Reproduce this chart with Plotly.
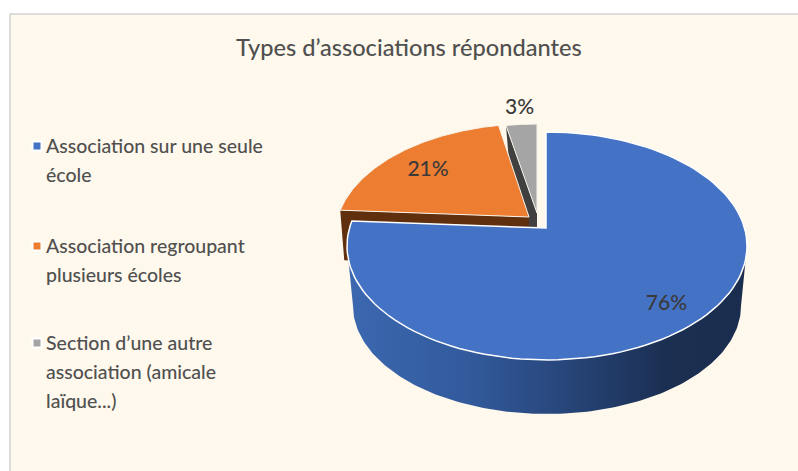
import numpy as np
import plotly.graph_objects as go

title = "Types d’associations répondantes"
categories = ["Association sur une seule<br>école",
              "Association regroupant<br>plusieurs écoles",
              "Section d’une autre<br>association (amicale<br>laïque...)"]
values = [76, 21, 3]
labels = ["76%", "21%", "3%"]

W, H = 798, 471
top_colors = ["#4472C4", "#ED7D31", "#A5A5A5"]
wall_colors = ["#2F5597", "#5F2F0E", "#404040"]
text_col = "#505050"
label_col = "#3A3A3A"
font = "Lato, 'Open Sans', sans-serif"

# projection of each slice: apex pixel, offset of ellipse centre, radii, depth
apex = [(546, 228), (529, 217), (537, 213)]
centre_off = [(1, 18), (1, 19), (1, 16)]
radii = [(200, 114), (195, 112), (195, 105)]
depth = [54, 50, 48]
label_kx = [0.88, 0.69, 0.95]
label_ky = [0.92, 0.62, 1.00]
legend_y = [145, 245, 342]


def rim(i, theta):
    """Point where the ray at pie angle theta leaves the ellipse of slice i."""
    ax, ay = apex[i]
    ox, oy = centre_off[i]
    a, b = radii[i]
    dx, dy = a * np.sin(theta), -b * np.cos(theta)
    A = (dx / a) ** 2 + (dy / b) ** 2
    B = -2 * (dx * ox / a ** 2 + dy * oy / b ** 2)
    C = (ox / a) ** 2 + (oy / b) ** 2 - 1
    k = (-B + np.sqrt(B * B - 4 * A * C)) / (2 * A)
    return ax + k * dx, ay + k * dy


fig = go.Figure()
total = sum(values)
edges = np.cumsum([0] + values) / total * 2 * np.pi


def poly(xs, ys, color, line=None, lw=1, **kw):
    fig.add_trace(go.Scatter(x=list(xs), y=list(ys), mode="lines", fill="toself",
                             fillcolor=color, hoverinfo="skip", showlegend=False,
                             line=dict(color=line or color, width=lw if line else 0), **kw))


# back-to-front: grey, orange, blue
for i in [2, 1, 0]:
    t0, t1 = edges[i], edges[i + 1]
    th = np.linspace(t0, t1, 120)
    rx, ry = zip(*[rim(i, t) for t in th])
    ax, ay = apex[i]
    d = depth[i]
    if i == 0:
        # outer front wall, with a horizontal shading gradient
        cx, cy = ax + centre_off[0][0], ay + centre_off[0][1]
        a, b = radii[0]
        ph = np.linspace(0, np.pi, 160)
        x_top = cx + a * np.cos(ph)
        y_top = cy + b * np.sin(ph)
        x_bot = cx + (a - 6) * np.cos(ph[::-1])
        y_bot = cy + d + 6 + (b - 6) * np.sin(ph[::-1])
        fig.add_trace(go.Scatter(
            x=list(x_top) + list(x_bot), y=list(y_top) + list(y_bot),
            mode="lines", fill="toself", hoverinfo="skip", showlegend=False,
            line=dict(width=0, color="rgba(0,0,0,0)"),
            fillgradient=dict(type="horizontal", start=350, stop=745,
                              colorscale=[[0, "#3C68B0"], [0.3, "#325A9C"], [0.55, "#274579"],
                                          [0.8, "#1B2F52"], [1, "#1A2D4E"]])))
    else:
        # radial wall exposed on the leading edge of each exploded slice
        end = rim(i, t0)
        poly([end[0], ax, ax, end[0] + 4], [end[1], ay, ay + d, end[1] + d], wall_colors[i])
    poly(list(rx) + [ax, rx[0]], list(ry) + [ay, ry[0]], top_colors[i],
         line="#FFFFFF" if i == 0 else "#F7F3EA", lw=1.5 if i == 0 else 1)

# data labels
lx, ly = [], []
for i in range(len(values)):
    mid = (edges[i] + edges[i + 1]) / 2
    a, b = radii[i]
    lx.append(apex[i][0] + label_kx[i] * a * np.sin(mid))
    ly.append(apex[i][1] - label_ky[i] * b * np.cos(mid))
fig.add_trace(go.Scatter(x=lx, y=ly, mode="text", text=labels, hoverinfo="skip", showlegend=False,
                         textfont=dict(family=font, size=21, color=label_col, weight=500)))

# legend swatches and text
fig.add_trace(go.Scatter(x=[37] * 3, y=[v + 1 for v in legend_y], mode="markers", hoverinfo="skip",
                         showlegend=False,
                         marker=dict(symbol="square", size=9, color=top_colors,
                                     line=dict(color="white", width=2))))
annotations = []
for cat, y0 in zip(categories, legend_y):
    for j, line in enumerate(cat.split("<br>")):
        annotations.append(dict(x=44, y=y0 + j * 29, text=line, showarrow=False, xanchor="left",
                                yanchor="middle", xref="x", yref="y",
                                font=dict(family=font, size=19.5, color=text_col, weight=500)))
annotations.append(dict(x=409, y=47, text=title, showarrow=False, xref="x", yref="y",
                        xanchor="center", yanchor="middle",
                        font=dict(family=font, size=23.6, color=text_col, weight=500)))

fig.update_layout(
    width=W, height=H, margin=dict(l=0, r=0, t=0, b=0),
    paper_bgcolor="white", plot_bgcolor="white", showlegend=False,
    annotations=annotations,
    xaxis=dict(range=[0, W], visible=False, fixedrange=True),
    yaxis=dict(range=[H, 0], visible=False, fixedrange=True),
    shapes=[dict(type="rect", xref="x", yref="y", x0=10, y0=14, x1=W + 5, y1=H + 5, layer="below",
                 fillcolor="#FFF8EC", line=dict(color="#D2D2D2", width=1.5))],
)
fig.write_html("out.html", config=dict(displayModeBar=False),
               post_script="document.body.style.margin='0';")
